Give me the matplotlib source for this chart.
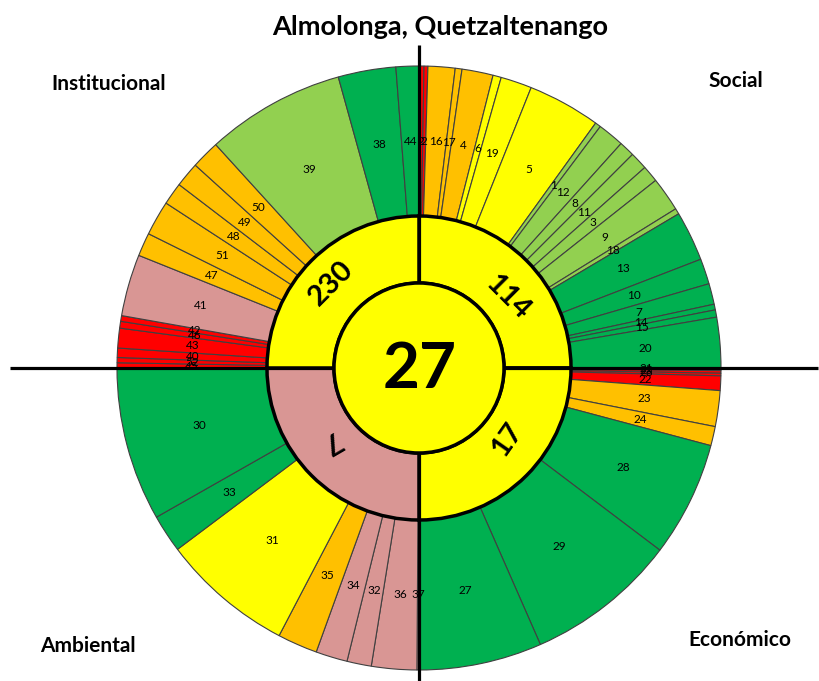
import matplotlib.pyplot as plt
import numpy as np

# colour codes used by the indicator table
COLS = {'R': '#FF0000', 'O': '#FFC000', 'Y': '#FFFF00',
        'LG': '#92D050', 'G': '#00B050', 'P': '#D99694'}

# outer ring: indicator number, width (degrees) and colour, clockwise from the top
social_labels = ['2', '2', '16', '17', '4', '6', '19', '5', '1', '12', '8', '11',
                 '3', '9', '18', '13', '10', '7', '14', '15', '20']
social_sizes = [0.95, 0.75, 5.2, 1.3, 6.0, 1.6, 6.0, 14.0, 1.1, 5.1, 3.0, 3.4,
                3.2, 6.6, 1.1, 9.6, 4.9, 4.0, 1.1, 1.4, 9.7]
social_cols = ['R', 'R', 'O', 'O', 'O', 'Y', 'Y', 'Y', 'LG', 'LG', 'LG', 'LG',
               'LG', 'LG', 'LG', 'G', 'G', 'G', 'G', 'G', 'G']

economico_labels = ['21', '25', '26', '22', '23', '24', '28', '29', '27']
economico_sizes = [0.5, 0.5, 0.5, 2.8, 6.9, 3.7, 22.2, 29.2, 23.7]
economico_cols = ['R', 'R', 'R', 'R', 'O', 'O', 'G', 'G', 'G']

ambiental_labels = ['37', '36', '32', '34', '35', '31', '33', '30']
ambiental_sizes = [0.4, 8.7, 4.7, 6.1, 7.7, 25.5, 7.3, 29.6]
ambiental_cols = ['P', 'P', 'P', 'P', 'O', 'Y', 'G', 'G']

institucional_labels = ['45', '52', '40', '43', '46', '42', '41', '47', '51', '48',
                        '49', '50', '39', '38', '44']
institucional_sizes = [1.0, 1.0, 1.8, 3.8, 1.3, 1.1, 11.9, 4.5, 6.7, 4.3,
                       4.8, 5.5, 26.8, 11.1, 4.4]
institucional_cols = ['R', 'R', 'R', 'R', 'R', 'R', 'P', 'O', 'O', 'O',
                      'O', 'O', 'LG', 'G', 'G']

# inner ring: one value per dimension
dimensions = ['Social', 'Económico', 'Ambiental', 'Institucional']
dim_values = ['114', '17', '7', '230']
dim_cols = ['Y', 'Y', 'P', 'Y']

total_value = '27'
title = 'Almolonga, Quetzaltenango'

FONT = ['Lato', 'DejaVu Sans']
plt.rcParams['font.family'] = FONT

labels = social_labels + economico_labels + ambiental_labels + institucional_labels
sizes = social_sizes + economico_sizes + ambiental_sizes + institucional_sizes
cols = [COLS[c] for c in social_cols + economico_cols + ambiental_cols + institucional_cols]

R_OUT, R_MID, R_IN = 302, 152, 85

fig = plt.figure(figsize=(8.19, 6.81), dpi=100)
ax = fig.add_axes([0, 0, 1, 1])

wedges, _ = ax.pie(sizes, colors=cols, radius=R_OUT, startangle=90, counterclock=False,
                   wedgeprops=dict(width=R_OUT - R_MID, edgecolor='#404040', linewidth=0.8))
r_lab = (R_OUT + R_MID) / 2
for w, lab in zip(wedges, labels):
    a = np.deg2rad((w.theta1 + w.theta2) / 2)
    ax.text(r_lab * np.cos(a), r_lab * np.sin(a), lab, ha='center', va='center',
            fontsize=8.5, zorder=5)

inner, _ = ax.pie([90, 90, 90, 90], colors=[COLS[c] for c in dim_cols], radius=R_MID,
                  startangle=90, counterclock=False,
                  wedgeprops=dict(width=R_MID - R_IN, edgecolor='black', linewidth=2.5))
for w in inner:
    w.set_zorder(2)

# cross lines
ax.plot([-409, 399], [0, 0], color='black', lw=2.3, zorder=3, solid_capstyle='butt')
ax.plot([0, 0], [-313, 323], color='black', lw=2.3, zorder=3, solid_capstyle='butt')

ax.add_patch(plt.Circle((0, 0), R_IN, facecolor=COLS['Y'], edgecolor='black',
                        linewidth=2.5, zorder=4))
ax.text(1, -1, total_value, ha='center', va='center', fontsize=46,
        fontweight='bold', zorder=6)

# dimension values in the inner ring
val_pos = [(89, 71, -45), (88, -72, 55), (-89, -73, -150), (-88, 85, 45)]
for txt, (x, y, rot) in zip(dim_values, val_pos):
    ax.text(x, y, txt, ha='center', va='center', rotation=rot, fontsize=21,
            fontweight='bold', zorder=6, rotation_mode='anchor')

# dimension names in the corners
corner_pos = [(736, 81), (740, 640), (88, 646), (109, 84)]
for name, (x, y) in zip(dimensions, corner_pos):
    ax.text(x - 419, 368 - y, name, ha='center', va='center', fontsize=15,
            fontweight='bold')

ax.text(21, 341, title, ha='center', va='center', fontsize=19.5, fontweight='bold')

ax.set_xlim(-419, 400)
ax.set_ylim(-313, 368)
ax.set_aspect('equal')
ax.axis('off')

fig.savefig('out.png', dpi=100)
